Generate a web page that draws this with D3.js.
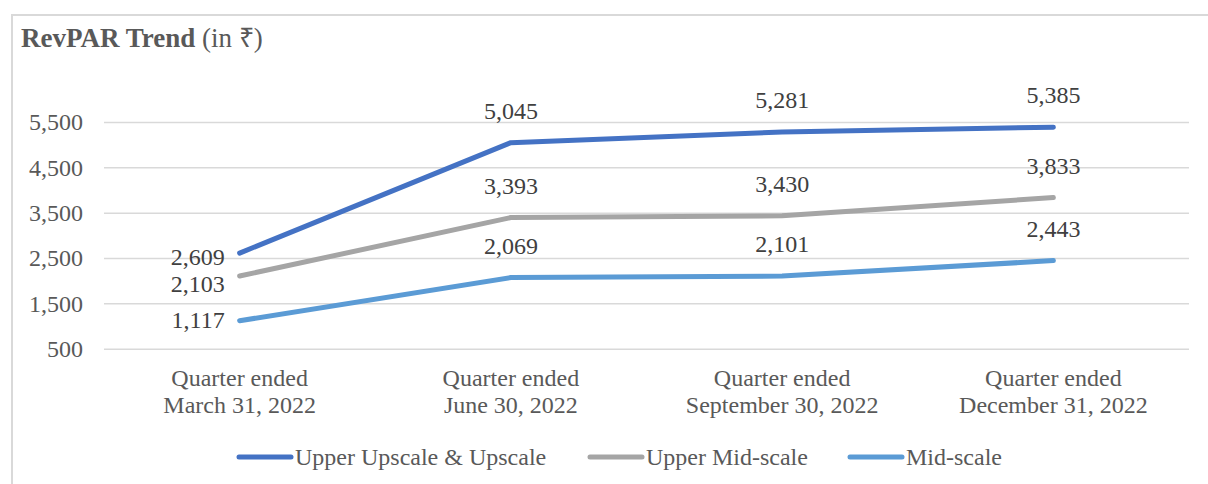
<!DOCTYPE html>
<html>
<head>
<meta charset="utf-8">
<script src="https://cdn.jsdelivr.net/npm/d3@7"></script>
<style>
  html, body { margin: 0; padding: 0; background: #fff; }
  svg { display: block; font-family: "Liberation Serif", "Times New Roman", serif; }
</style>
</head>
<body>
<svg id="chart" width="1208" height="484"></svg>
<script>
// Quarterly RevPAR (in ₹) by hotel segment
const quarters = [
  "Quarter ended|March 31, 2022",
  "Quarter ended|June 30, 2022",
  "Quarter ended|September 30, 2022",
  "Quarter ended|December 31, 2022"
];
const seriesNames = ["Upper Upscale & Upscale", "Upper Mid-scale", "Mid-scale"];
const upperUpscale = [2609, 5045, 5281, 5385];
const upperMidscale = [2103, 3393, 3430, 3833];
const midscale = [1117, 2069, 2101, 2443];
const yTicks = [500, 1500, 2500, 3500, 4500, 5500];
const colors = ["#4472C4", "#A5A5A5", "#5B9BD5"];

const series = [upperUpscale, upperMidscale, midscale].map((values, i) => ({
  name: seriesNames[i], values, color: colors[i]
}));

const svg = d3.select("#chart");
const W = 1208, H = 484;
const plot = { left: 104, right: 1189, top: 122, bottom: 348.7 };
const fontSize = "24px";

// chart frame
svg.append("rect")
  .attr("x", 12).attr("y", 15)
  .attr("width", W + 20).attr("height", H + 20)
  .attr("fill", "#fff").attr("stroke", "#d9d9d9").attr("stroke-width", 2);

// title
const title = svg.append("text").attr("x", 21).attr("y", 47)
  .attr("fill", "#595959").style("font-size", "27px");
title.append("tspan").attr("font-weight", "bold").text("RevPAR Trend");
title.append("tspan").text(" (in ₹)");

const x = d3.scaleBand().domain(quarters).range([plot.left, plot.right]);
const y = d3.scaleLinear().domain([500, 5500]).range([plot.bottom, plot.top]);
const cx = q => x(q) + x.bandwidth() / 2;

// gridlines + y-axis labels
const yAxis = d3.axisLeft(y).tickValues(yTicks)
  .tickFormat(d3.format(","))
  .tickSize(-(plot.right - plot.left)).tickPadding(21);
const gy = svg.append("g").attr("transform", `translate(${plot.left},0)`).call(yAxis);
gy.select(".domain").remove();
gy.selectAll(".tick line").attr("stroke", "#d9d9d9").attr("stroke-width", 1.5);
gy.selectAll(".tick text").attr("fill", "#595959")
  .style("font-size", fontSize).style("font-family", "Liberation Serif, serif");

// category labels (two lines each)
const xAxis = d3.axisBottom(x).tickSize(0).tickFormat("");
const gx = svg.append("g").attr("transform", `translate(0,${plot.bottom})`).call(xAxis);
gx.select(".domain").remove();
gx.selectAll(".tick").each(function(q) {
  const t = d3.select(this).append("text")
    .attr("text-anchor", "middle").attr("fill", "#595959")
    .style("font-size", fontSize).style("font-family", "Liberation Serif, serif");
  q.split("|").forEach((line, i) => {
    t.append("tspan").attr("x", 0).attr("y", 37 + i * 27).text(line);
  });
});

// series lines
const line = d3.line().x((d, i) => cx(quarters[i])).y(d => y(d));
svg.append("g").selectAll("path").data(series).join("path")
  .attr("d", s => line(s.values))
  .attr("fill", "none")
  .attr("stroke", s => s.color)
  .attr("stroke-width", 5)
  .attr("stroke-linecap", "round")
  .attr("stroke-linejoin", "round");

// data labels: first quarter to the left of the point, others above it
const firstLabelShift = [12, 16, 7];
const fmt = d3.format(",");
const labels = svg.append("g").attr("fill", "#404040")
  .style("font-size", fontSize);
series.forEach((s, si) => {
  s.values.forEach((v, i) => {
    const px = cx(quarters[i]), py = y(v);
    if (i === 0) {
      labels.append("text").attr("x", px - 15).attr("y", py + firstLabelShift[si])
        .attr("text-anchor", "end").text(fmt(v));
    } else {
      labels.append("text").attr("x", px).attr("y", py - 24)
        .attr("text-anchor", "middle").text(fmt(v));
    }
  });
});

// legend
const legendX = [237, 588, 848];
const legend = svg.append("g").attr("transform", "translate(0,457)");
series.forEach((s, i) => {
  const g = legend.append("g").attr("transform", `translate(${legendX[i]},0)`);
  g.append("line").attr("x1", 2).attr("x2", 54).attr("y1", 0).attr("y2", 0)
    .attr("stroke", s.color).attr("stroke-width", 5).attr("stroke-linecap", "round");
  g.append("text").attr("x", 58).attr("y", 8).attr("fill", "#595959")
    .style("font-size", fontSize).text(s.name);
});
</script>
</body>
</html>
